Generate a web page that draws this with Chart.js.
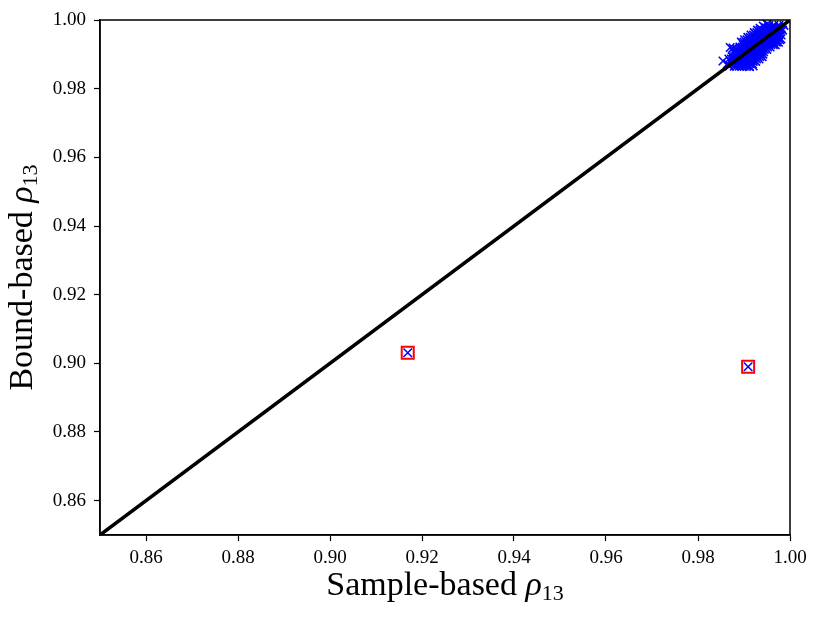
<!DOCTYPE html>
<html>
<head>
<meta charset="utf-8">
<script src="https://cdn.jsdelivr.net/npm/chart.js@4"></script>
<style>
html,body{margin:0;padding:0;background:#fff;}
canvas{display:block;}
</style>
</head>
<body>
<canvas id="c" width="822" height="619"></canvas>
<script>
// ---- data ----
const xTicks = [0.86, 0.88, 0.90, 0.92, 0.94, 0.96, 0.98, 1.00];
const yTicks = [0.86, 0.88, 0.90, 0.92, 0.94, 0.96, 0.98, 1.00];
const axisMin = 0.85;
const axisMax = 1.00;

const lineX = [0.85, 1.00];
const lineY = [0.85, 1.00];

const outlierX = [0.9169, 0.9909];
const outlierY = [0.9031, 0.8990];

const clusterX = [
0.98679, 0.98543, 0.98640, 0.98700, 0.98760,
0.98671, 0.98710, 0.98749, 0.98788,
0.98741, 0.98780, 0.98819, 0.98858, 0.98897,
0.98772, 0.98811, 0.98850, 0.98889, 0.98928, 0.98967, 0.99006,
0.98842, 0.98881, 0.98920, 0.98959, 0.98998, 0.99037, 0.99076, 0.99115,
0.98912, 0.98951, 0.98990, 0.99029, 0.99068, 0.99107, 0.99146, 0.99185,
0.98943, 0.98982, 0.99021, 0.99060, 0.99099, 0.99138, 0.99177, 0.99216, 0.99255,
0.99013, 0.99052, 0.99091, 0.99130, 0.99169, 0.99208, 0.99247, 0.99286, 0.99325,
0.99083, 0.99122, 0.99161, 0.99200, 0.99239, 0.99278, 0.99317, 0.99356, 0.99395,
0.99153, 0.99192, 0.99231, 0.99270, 0.99309, 0.99348, 0.99387, 0.99426,
0.99223, 0.99262, 0.99301, 0.99340, 0.99379, 0.99418, 0.99457, 0.99496,
0.99293, 0.99332, 0.99371, 0.99410, 0.99449, 0.99488, 0.99527, 0.99566,
0.99402, 0.99441, 0.99480, 0.99519, 0.99558, 0.99597, 0.99636,
0.99472, 0.99511, 0.99550, 0.99589, 0.99628, 0.99667, 0.99706,
0.99542, 0.99581, 0.99620, 0.99659, 0.99698, 0.99737, 0.99776,
0.99651, 0.99690, 0.99729, 0.99768, 0.99807,
0.99760, 0.99799, 0.99838, 0.99869,
0.99120, 0.99200
];
const clusterY = [
0.98654, 0.98806, 0.98724, 0.99200, 0.99180,
0.98864, 0.98794, 0.98724, 0.98654,
0.98934, 0.98864, 0.98794, 0.98724, 0.98654,
0.99074, 0.99004, 0.98934, 0.98864, 0.98794, 0.98724, 0.98654,
0.99144, 0.99074, 0.99004, 0.98934, 0.98864, 0.98794, 0.98724, 0.98654,
0.99214, 0.99144, 0.99074, 0.99004, 0.98934, 0.98864, 0.98794, 0.98724,
0.99354, 0.99284, 0.99214, 0.99144, 0.99074, 0.99004, 0.98934, 0.98864, 0.98794,
0.99424, 0.99354, 0.99284, 0.99214, 0.99144, 0.99074, 0.99004, 0.98934, 0.98864,
0.99494, 0.99424, 0.99354, 0.99284, 0.99214, 0.99144, 0.99074, 0.99004, 0.98934,
0.99564, 0.99494, 0.99424, 0.99354, 0.99284, 0.99214, 0.99144, 0.99074,
0.99634, 0.99564, 0.99494, 0.99424, 0.99354, 0.99284, 0.99214, 0.99144,
0.99704, 0.99634, 0.99564, 0.99494, 0.99424, 0.99354, 0.99284, 0.99214,
0.99704, 0.99634, 0.99564, 0.99494, 0.99424, 0.99354, 0.99284,
0.99774, 0.99704, 0.99634, 0.99564, 0.99494, 0.99424, 0.99354,
0.99844, 0.99774, 0.99704, 0.99634, 0.99564, 0.99494, 0.99424,
0.99844, 0.99774, 0.99704, 0.99634, 0.99564,
0.99844, 0.99774, 0.99704, 0.99844,
0.98640, 0.98660
];
// more samples in the dense core of the cloud and along its upper end
const clusterX2 = [
0.98726, 0.98765, 0.98804, 0.98843,
0.98796, 0.98835, 0.98874, 0.98913, 0.98952,
0.98827, 0.98866, 0.98905, 0.98944, 0.98983, 0.99022, 0.99061,
0.98897, 0.98936, 0.98975, 0.99014, 0.99053, 0.99092, 0.99131,
0.98967, 0.99006, 0.99045, 0.99084, 0.99123, 0.99162, 0.99201,
0.98998, 0.99037, 0.99076, 0.99115, 0.99154, 0.99193, 0.99232, 0.99271,
0.99068, 0.99107, 0.99146, 0.99185, 0.99224, 0.99263, 0.99302, 0.99341,
0.99138, 0.99177, 0.99216, 0.99255, 0.99294, 0.99333, 0.99372, 0.99411,
0.99208, 0.99247, 0.99286, 0.99325, 0.99364, 0.99403, 0.99442,
0.99278, 0.99317, 0.99356, 0.99395, 0.99434, 0.99473, 0.99512,
0.99348, 0.99387, 0.99426, 0.99465, 0.99504, 0.99543, 0.99582,
0.99457, 0.99496, 0.99535, 0.99574, 0.99613, 0.99652,
0.99527, 0.99566, 0.99605, 0.99644, 0.99683, 0.99722,
0.99636, 0.99675, 0.99714, 0.99753,
0.99745, 0.99784,
0.99500, 0.99420, 0.99350, 0.99800, 0.99750, 0.99680
];
const clusterY2 = [
0.98864, 0.98794, 0.98724, 0.98654,
0.98934, 0.98864, 0.98794, 0.98724, 0.98654,
0.99074, 0.99004, 0.98934, 0.98864, 0.98794, 0.98724, 0.98654,
0.99144, 0.99074, 0.99004, 0.98934, 0.98864, 0.98794, 0.98724,
0.99214, 0.99144, 0.99074, 0.99004, 0.98934, 0.98864, 0.98794,
0.99354, 0.99284, 0.99214, 0.99144, 0.99074, 0.99004, 0.98934, 0.98864,
0.99424, 0.99354, 0.99284, 0.99214, 0.99144, 0.99074, 0.99004, 0.98934,
0.99494, 0.99424, 0.99354, 0.99284, 0.99214, 0.99144, 0.99074, 0.99004,
0.99564, 0.99494, 0.99424, 0.99354, 0.99284, 0.99214, 0.99144,
0.99634, 0.99564, 0.99494, 0.99424, 0.99354, 0.99284, 0.99214,
0.99704, 0.99634, 0.99564, 0.99494, 0.99424, 0.99354, 0.99284,
0.99704, 0.99634, 0.99564, 0.99494, 0.99424, 0.99354,
0.99774, 0.99704, 0.99634, 0.99564, 0.99494, 0.99424,
0.99774, 0.99704, 0.99634, 0.99564,
0.99774, 0.99704,
0.99880, 0.99820, 0.99760, 0.99450, 0.99350, 0.99280
];

const xTitle = ['Sample-based ', 'ρ', '13'];
const yTitle = ['Bound-based ', 'ρ', '13'];

// ---- drawing ----
const FONT = '"Liberation Serif", "Times New Roman", serif';
const pairs = (xs, ys) => xs.map((x, i) => ({x: x, y: ys[i]}));

function drawRich(ctx, parts, cx, baseY) {
  const specs = [
    {t: parts[0], f: '34px ' + FONT, dy: 0},
    {t: parts[1], f: 'italic 34px ' + FONT, dy: 0},
    {t: parts[2], f: '22px ' + FONT, dy: 5}
  ];
  let w = 0;
  specs.forEach(s => { ctx.font = s.f; s.w = ctx.measureText(s.t).width; w += s.w; });
  let x = cx - w / 2;
  ctx.fillStyle = '#000';
  ctx.textBaseline = 'alphabetic';
  ctx.textAlign = 'left';
  specs.forEach(s => { ctx.font = s.f; ctx.fillText(s.t, x, baseY + s.dy); x += s.w; });
}

const framePlugin = {
  id: 'frame',
  afterDraw(chart) {
    const {ctx, chartArea: a} = chart;
    ctx.save();
    ctx.strokeStyle = '#000';
    ctx.lineWidth = 1.5;
    ctx.strokeRect(a.left, a.top, a.right - a.left, a.bottom - a.top);
    // axis titles
    drawRich(ctx, xTitle, (a.left + a.right) / 2, 595);
    ctx.translate(32, (a.top + a.bottom) / 2);
    ctx.rotate(-Math.PI / 2);
    drawRich(ctx, yTitle, 0, 0);
    ctx.restore();
  }
};

const tickFont = {family: FONT, size: 19};

new Chart(document.getElementById('c'), {
  type: 'scatter',
  data: {
    datasets: [
      {
        label: 'diag',
        data: pairs(lineX, lineY),
        showLine: true,
        borderColor: '#000',
        borderWidth: 3.5,
        pointRadius: 0,
        order: 0
      },
      {
        label: 'outlierX',
        data: pairs(outlierX, outlierY),
        pointStyle: 'crossRot',
        pointRadius: 6,
        borderColor: '#0000ff',
        borderWidth: 1.5,
        order: 1
      },
      {
        label: 'outlierSq',
        data: pairs(outlierX, outlierY),
        pointStyle: 'rect',
        pointRadius: 8.5,
        borderColor: '#ff0000',
        backgroundColor: 'rgba(0,0,0,0)',
        borderWidth: 2,
        order: 2
      },
      {
        label: 'cluster',
        data: pairs(clusterX, clusterY).concat(pairs(clusterX2, clusterY2)),
        pointStyle: 'crossRot',
        pointRadius: 6,
        borderColor: '#0000ff',
        borderWidth: 1.6,
        order: 3
      }
    ]
  },
  options: {
    responsive: false,
    devicePixelRatio: 1,
    animation: false,
    events: [],
    layout: {padding: {left: 0, top: 20, right: 32, bottom: 0}},
    plugins: {legend: {display: false}, tooltip: {enabled: false}},
    scales: {
      x: {
        type: 'linear',
        min: axisMin, max: axisMax,
        afterBuildTicks: s => { s.ticks = xTicks.map(v => ({value: v})); },
        afterFit: s => { s.height = 84; },
        ticks: {
          font: tickFont, color: '#000', padding: 6, maxRotation: 0,
          callback: v => Number(v).toFixed(2)
        },
        grid: {drawOnChartArea: false, drawTicks: true, tickLength: 6, tickColor: '#000', tickWidth: 1.2},
        border: {display: true, color: '#000', width: 1.5}
      },
      y: {
        type: 'linear',
        min: axisMin, max: axisMax,
        afterBuildTicks: s => { s.ticks = yTicks.map(v => ({value: v})); },
        afterFit: s => { s.width = 100; },
        ticks: {
          font: tickFont, color: '#000', padding: 8,
          callback: v => Number(v).toFixed(2)
        },
        grid: {drawOnChartArea: false, drawTicks: true, tickLength: 6, tickColor: '#000', tickWidth: 1.2},
        border: {display: true, color: '#000', width: 1.5}
      }
    }
  },
  plugins: [framePlugin]
});
</script>
</body>
</html>
